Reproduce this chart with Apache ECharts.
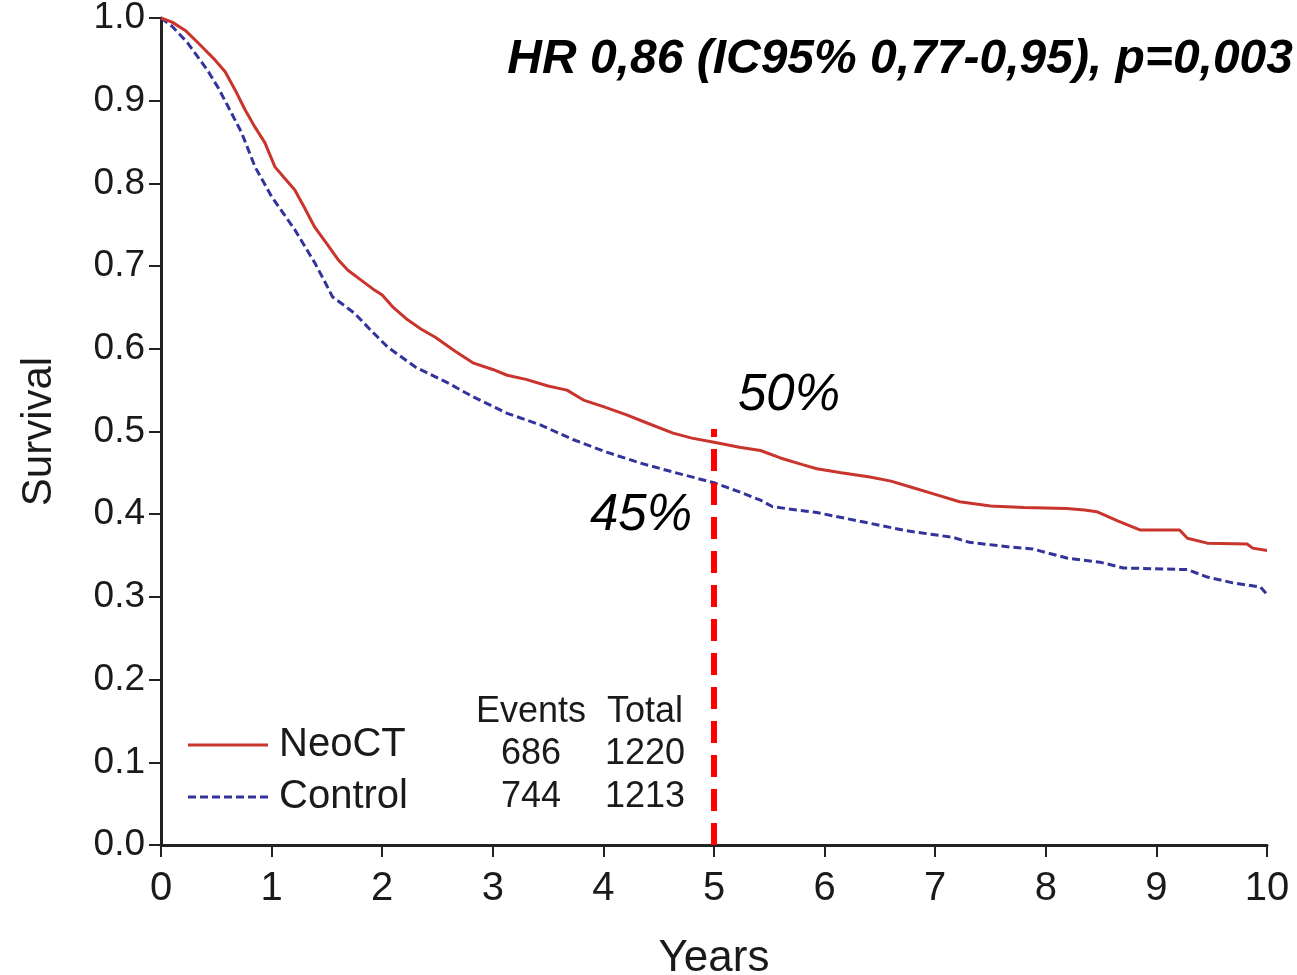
<!DOCTYPE html>
<html>
<head>
<meta charset="utf-8">
<title>Survival – NeoCT vs Control</title>
<script src="https://cdn.jsdelivr.net/npm/echarts@6/dist/echarts.min.js"></script>
<style>
  html, body { margin: 0; padding: 0; background: #ffffff; }
  #chart { width: 1297px; height: 975px; }
</style>
</head>
<body>
<div id="chart"></div>
<script>
// Kaplan–Meier estimates (years, survival probability)
const neoctYears = [0, 0.1, 0.22, 0.35, 0.49, 0.58, 0.67, 0.76, 0.85, 0.94, 1.03, 1.12, 1.21, 1.3, 1.39, 1.5, 1.6, 1.69, 1.8, 1.93, 2.0, 2.1, 2.23, 2.35, 2.48, 2.66, 2.82, 3.0, 3.13, 3.3, 3.5, 3.67, 3.82, 4.0, 4.21, 4.4, 4.63, 4.8, 5.0, 5.23, 5.42, 5.6, 5.8, 5.93, 6.15, 6.41, 6.6, 6.8, 7.0, 7.22, 7.5, 7.8, 8.19, 8.35, 8.46, 8.65, 8.85, 9.21, 9.28, 9.46, 9.82, 9.87, 10.0];
const neoctSurv  = [1.0, 0.995, 0.985, 0.968, 0.949, 0.935, 0.913, 0.889, 0.868, 0.849, 0.82, 0.806, 0.792, 0.77, 0.747, 0.727, 0.708, 0.695, 0.684, 0.671, 0.665, 0.65, 0.635, 0.624, 0.614, 0.597, 0.583, 0.575, 0.568, 0.563, 0.555, 0.55, 0.538, 0.53, 0.52, 0.51, 0.498, 0.492, 0.487, 0.481, 0.477, 0.468, 0.46, 0.455, 0.45, 0.445, 0.44, 0.432, 0.424, 0.415, 0.41, 0.408, 0.407, 0.405, 0.403, 0.392, 0.381, 0.381, 0.371, 0.365, 0.364, 0.359, 0.356];

const controlYears = [0, 0.1, 0.24, 0.42, 0.52, 0.61, 0.73, 0.85, 1.0, 1.1, 1.21, 1.3, 1.39, 1.47, 1.55, 1.75, 1.9, 2.05, 2.3, 2.59, 2.82, 3.13, 3.43, 3.73, 4.03, 4.33, 4.63, 5.0, 5.23, 5.42, 5.53, 5.93, 6.41, 6.74, 7.16, 7.31, 7.7, 7.88, 8.19, 8.49, 8.7, 9.28, 9.46, 9.69, 9.94, 10.0];
const controlSurv  = [1.0, 0.99, 0.97, 0.937, 0.915, 0.892, 0.861, 0.82, 0.784, 0.765, 0.744, 0.724, 0.704, 0.684, 0.663, 0.643, 0.622, 0.602, 0.578, 0.559, 0.542, 0.522, 0.508, 0.49, 0.475, 0.462, 0.451, 0.438, 0.427, 0.417, 0.409, 0.402, 0.389, 0.38, 0.372, 0.366, 0.36, 0.358, 0.347, 0.342, 0.335, 0.333, 0.324, 0.317, 0.312, 0.303];

// 5-year reference line
const landmarkYear = 5;
const landmarkTop = 0.503;

// Group summary table
const groupNames = ['NeoCT', 'Control'];
const groupEvents = ['686', '744'];
const groupTotals = ['1220', '1213'];
const tableHeaders = ['Events', 'Total'];

const fiveYearLabels = ['50%', '45%'];
const hrText = 'HR 0,86 (IC95% 0,77-0,95), p=0,003';

const xTicks = [0, 1, 2, 3, 4, 5, 6, 7, 8, 9, 10];

const FONT = "'Liberation Sans', Arial, Helvetica, sans-serif";
const INK = '#1a1a1a';
const RED = '#c9342d';
const BLUE = '#33339c';

const zip = (xs, ys) => xs.map((x, i) => [x, ys[i]]);

const chart = echarts.init(document.getElementById('chart'), null, { renderer: 'canvas' });

const option = {
  backgroundColor: '#ffffff',
  animation: false,
  grid: { left: 161, right: 30, top: 18, bottom: 130, containLabel: false, outerBoundsMode: 'none' },
  xAxis: {
    type: 'value',
    min: 0, max: 10, interval: 1,
    name: 'Years',
    nameLocation: 'middle',
    nameGap: 92,
    nameTextStyle: { fontFamily: FONT, fontSize: 44, color: INK },
    axisLine: { show: true, lineStyle: { color: '#222', width: 3 } },
    axisTick: { show: true, length: 12, lineStyle: { color: '#222', width: 2 } },
    axisLabel: { fontFamily: FONT, fontSize: 40, color: INK, margin: 24,
      formatter: v => xTicks.includes(v) ? String(v) : '' },
    splitLine: { show: false }
  },
  yAxis: {
    type: 'value',
    min: 0, max: 1, interval: 0.1,
    name: 'Survival',
    nameLocation: 'middle',
    nameRotate: 90,
    nameGap: 101,
    nameTextStyle: { fontFamily: FONT, fontSize: 42, color: INK },
    axisLine: { show: true, lineStyle: { color: '#222', width: 3 } },
    axisTick: { show: true, length: 12, lineStyle: { color: '#222', width: 2 } },
    axisLabel: { fontFamily: FONT, fontSize: 37, color: INK, margin: 16,
      formatter: v => v.toFixed(1) },
    splitLine: { show: false }
  },
  series: [
    {
      name: groupNames[0],
      type: 'line',
      data: zip(neoctYears, neoctSurv),
      symbol: 'none',
      lineStyle: { color: RED, width: 3 },
      itemStyle: { color: RED },
      z: 3
    },
    {
      name: groupNames[1],
      type: 'line',
      data: zip(controlYears, controlSurv),
      symbol: 'none',
      lineStyle: { color: BLUE, width: 3, type: [8, 4] },
      itemStyle: { color: BLUE },
      z: 2
    },
    {
      name: '5y',
      type: 'line',
      data: [[landmarkYear, 0], [landmarkYear, landmarkTop]],
      symbol: 'none',
      lineStyle: { color: '#ff0000', width: 6, type: [22, 12] },
      z: 4,
      silent: true
    }
  ]
};

chart.setOption(option);

// Legend samples, annotations and summary table
const legendRows = [745, 797];
const legendStyles = [
  { stroke: RED, lineWidth: 3 },
  { stroke: BLUE, lineWidth: 3, lineDash: [8, 4] }
];
const tableCols = [531, 645];
const tableRows = [712, 754, 797];
const g = [];
groupNames.forEach((name, i) => {
  g.push({
    type: 'line',
    shape: { x1: 188, y1: legendRows[i], x2: 268, y2: legendRows[i] },
    style: legendStyles[i]
  });
  g.push({
    type: 'text', x: 279, y: legendRows[i],
    style: { text: name, font: `40px ${FONT}`, fill: INK, textVerticalAlign: 'middle' }
  });
});
g.push({
  type: 'text', right: 4, top: 36,
  style: { text: hrText, font: `italic bold 48px ${FONT}`, fill: '#000' }
});
g.push({
  type: 'text', x: 738, y: 421,
  style: { text: fiveYearLabels[0], font: `italic 51px ${FONT}`, fill: '#000', textVerticalAlign: 'bottom' }
});
g.push({
  type: 'text', x: 692, y: 541,
  style: { text: fiveYearLabels[1], font: `italic 51px ${FONT}`, fill: '#000', textAlign: 'right', textVerticalAlign: 'bottom' }
});
tableHeaders.forEach((h, i) => g.push({
  type: 'text', x: tableCols[i], y: tableRows[0],
  style: { text: h, font: `36px ${FONT}`, fill: INK, textAlign: 'center', textVerticalAlign: 'middle' }
}));
[groupEvents, groupTotals].forEach((col, i) => col.forEach((v, r) => g.push({
  type: 'text', x: tableCols[i], y: tableRows[r + 1],
  style: { text: v, font: `36px ${FONT}`, fill: INK, textAlign: 'center', textVerticalAlign: 'middle' }
})));
chart.setOption({ graphic: g });
</script>
</body>
</html>
